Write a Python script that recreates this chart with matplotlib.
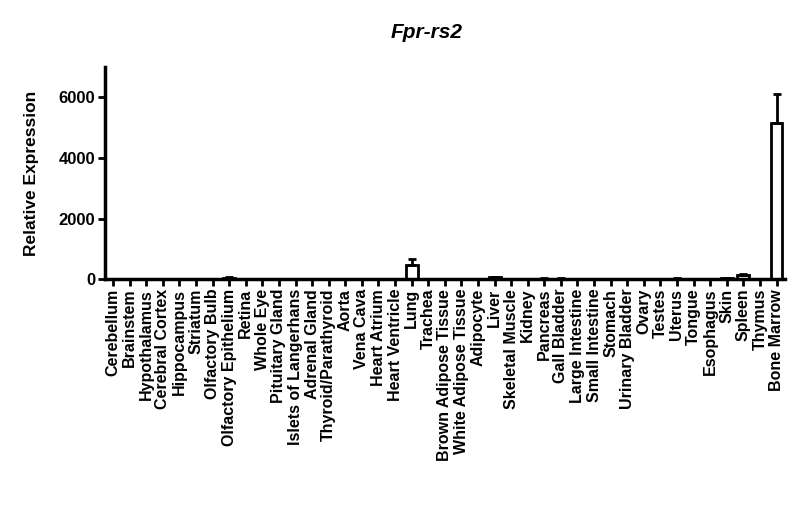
import matplotlib
matplotlib.use("Agg")
import matplotlib.pyplot as plt
import numpy as np

plt.rcParams.update({'font.family': ['Liberation Sans', 'DejaVu Sans'],
                     'font.weight': 'bold'})

# tissues and values (relative expression, mean and upper SEM)
tissues = ["Cerebellum", "Brainstem", "Hypothalamus", "Cerebral Cortex",
           "Hippocampus", "Striatum", "Olfactory Bulb", "Olfactory Epithelium",
           "Retina", "Whole Eye", "Pituitary Gland", "Islets of Langerhans",
           "Adrenal Gland", "Thyroid/Parathyroid", "Aorta", "Vena Cava",
           "Heart Atrium", "Heart Ventricle", "Lung", "Trachea",
           "Brown Adipose Tissue", "White Adipose Tissue", "Adipocyte", "Liver",
           "Skeletal Muscle", "Kidney", "Pancreas", "Gall Bladder",
           "Large Intestine", "Small Intestine", "Stomach", "Urinary Bladder",
           "Ovary", "Testes", "Uterus", "Tongue", "Esophagus", "Skin",
           "Spleen", "Thymus", "Bone Marrow"]
expression = [5, 10, 5, 5, 5, 5, 8, 50,
              3, 3, 5, 5, 5, 5, 10, 5,
              5, 5, 450, 10, 5, 5, 3, 60,
              3, 3, 15, 15, 5, 5, 5, 5,
              10, 5, 15, 5, 5, 25, 130, 10, 5150]
sem = [2, 3, 2, 2, 2, 2, 3, 15,
       1, 1, 2, 2, 2, 2, 3, 2,
       2, 2, 200, 3, 2, 2, 1, 15,
       1, 1, 5, 5, 2, 2, 2, 2,
       3, 2, 5, 2, 2, 8, 25, 3, 950]
y_ticks = [0, 2000, 4000, 6000]

fig = plt.figure(figsize=(8, 5.13), dpi=100)
ax = fig.add_axes([0.131, 0.456, 0.85, 0.413])

x = np.arange(len(tissues))
ax.bar(x, expression, width=0.72, color='white', edgecolor='black',
       linewidth=2, zorder=2)
ax.errorbar(x, expression, yerr=[np.zeros(len(sem)), sem], fmt='none',
            ecolor='black', elinewidth=2, capsize=3, capthick=2, zorder=3)

ax.set_xlim(-0.5, len(tissues) - 0.5)
ax.set_ylim(0, 7000)
ax.set_yticks(y_ticks)
ax.set_xticks(x)
ax.set_xticklabels(tissues, rotation=90, fontsize=11.5, fontweight='bold')
ax.tick_params(axis='y', labelsize=12, width=2, length=5, pad=2)
ax.tick_params(axis='x', width=2, length=5, pad=2)
for lbl in ax.get_yticklabels():
    lbl.set_fontweight('bold')

ax.spines['top'].set_visible(False)
ax.spines['right'].set_visible(False)
ax.spines['left'].set_linewidth(2.5)
ax.spines['bottom'].set_linewidth(2.5)

ax.set_ylabel('Relative Expression', fontsize=12.5, fontweight='bold', labelpad=14)
fig.text(427 / 800, 1 - 33 / 513, 'Fpr-rs2', fontsize=15, fontweight='bold',
         style='italic', ha='center', va='center')

fig.savefig('out.png', dpi=100)
